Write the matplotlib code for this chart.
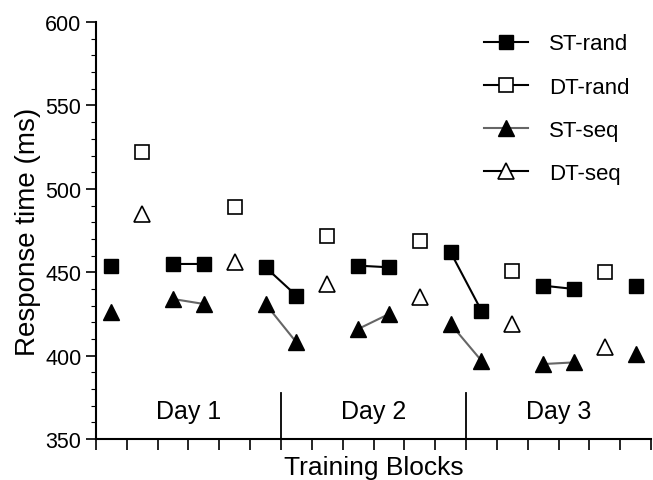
import numpy as np
import matplotlib.pyplot as plt
from matplotlib.ticker import MultipleLocator

plt.rcParams['font.family'] = ['Liberation Sans', 'DejaVu Sans']

nan = np.nan
blocks = np.arange(1, 19)
st_rand = [454, nan, 455, 455, nan, 453, 436, nan, 454, 453, nan, 462, 427, nan, 442, 440, nan, 442]
dt_rand = [nan, 522, nan, nan, 489, nan, nan, 472, nan, nan, 469, nan, nan, 451, nan, nan, 450, nan]
st_seq = [426, nan, 434, 431, nan, 431, 408, nan, 416, 425, nan, 419, 397, nan, 395, 396, nan, 401]
dt_seq = [nan, 485, nan, nan, 456, nan, nan, 443, nan, nan, 435, nan, nan, 419, nan, nan, 405, nan]
days = ['Day 1', 'Day 2', 'Day 3']
blocks_per_day = 6

fig = plt.figure(figsize=(6.53, 4.81), dpi=100)
ax = fig.add_axes([0.147, 0.085, 0.85, 0.867])

x = blocks - 0.5
ms = 10.5
ax.plot(x, st_rand, '-', color='black', lw=1.5, marker='s', ms=ms,
        mfc='black', mec='black', label='ST-rand')
ax.plot(x, dt_rand, '-', color='black', lw=1.5, marker='s', ms=ms,
        mfc='white', mec='black', mew=1.2, label='DT-rand')
ax.plot(x, st_seq, '-', color='#666666', lw=1.5, marker='^', ms=ms + 1,
        mfc='black', mec='black', label='ST-seq')
ax.plot(x, dt_seq, '-', color='black', lw=1.5, marker='^', ms=ms + 1,
        mfc='white', mec='black', mew=1.2, label='DT-seq')

ax.set_xlim(0, 18)
ax.set_ylim(350, 600)

# day separators and labels
for i, d in enumerate(days):
    if i > 0:
        ax.plot([i * blocks_per_day] * 2, [350, 377.5], color='black', lw=1.3, clip_on=False)
    ax.text(i * blocks_per_day + blocks_per_day / 2, 367, d, ha='center', va='center', fontsize=18)

for s in ['top', 'right']:
    ax.spines[s].set_visible(False)
for s in ['left', 'bottom']:
    ax.spines[s].set_linewidth(1.5)

ax.set_xticks(np.arange(0, 19))
ax.set_xticklabels([])
ax.tick_params(axis='x', direction='out', length=7.7, width=1.2)
ax.yaxis.set_major_locator(MultipleLocator(50))
ax.yaxis.set_minor_locator(MultipleLocator(10))
ax.tick_params(axis='y', which='major', direction='out', length=7, width=1.2, labelsize=15.5)
ax.tick_params(axis='y', which='minor', direction='out', length=3.5, width=0.8)

ax.set_ylabel('Response time (ms)', fontsize=20, labelpad=3)
ax.set_xlabel('Training Blocks', fontsize=19, labelpad=0)

ax.legend(loc='upper right', frameon=False, fontsize=16, handlelength=2.0,
          handletextpad=0.95, labelspacing=1.0, markerscale=1.0,
          bbox_to_anchor=(0.99, 1.01), borderaxespad=0.3)

fig.savefig('out.png', dpi=100)
